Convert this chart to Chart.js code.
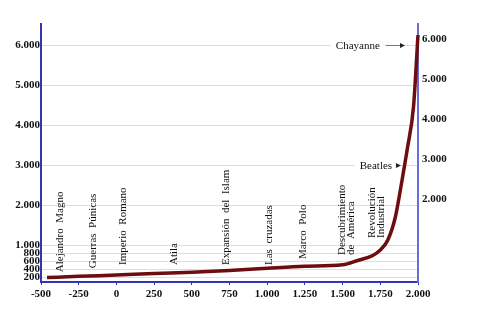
<!DOCTYPE html>
<html lang="es">
<head>
  <meta charset="UTF-8" />
  <title>Población mundial</title>
  <script src="https://cdn.jsdelivr.net/npm/chart.js"></script>
  <style>
    body { margin: 0; padding: 0; background: #fff; }
    #wrap { width: 477px; height: 333px; }
  </style>
</head>
<body>
  <div id="wrap"><canvas id="chart" width="477" height="333"></canvas></div>

  <script>
    // curve data (year, millions)
    const years = [-460, -250, 0, 250, 500, 750, 1000, 1250, 1500, 1600, 1700, 1750, 1800, 1850, 1875, 1900, 1930, 1970, 2000];
    const population = [185, 217, 250, 287, 318, 362, 418, 467, 505, 612, 737, 875, 1125, 1700, 2200, 2750, 3425, 4450, 6250];

    // axis ticks
    const leftTicks = [200, 400, 600, 800, 1000, 2000, 3000, 4000, 5000, 6000];
    const rightTicks = [2000, 3000, 4000, 5000, 6000];

    // vertical event labels
    const eventLabels = [['Alejandro  Magno'], ['Guerras  Púnicas'], ['Imperio  Romano'], ['Atila'],
      ['Expansión  del  Islam'], ['Las  cruzadas'], ['Marco  Polo'], ['Descubrimiento', 'de  América'], ['Revolución', 'Industrial']];
    const eventYears = [-375, -155, 45, 380, 725, 1015, 1240, 1525, 1725];
    const eventBase = [320, 420, 500, 500, 500, 500, 650, 750, 1175];

    // arrow notes
    const noteLabels = ['Chayanne', 'Beatles'];
    const noteYears = [1601, 1721];
    const noteValues = [6000, 3000];
    const noteArrowTo = [1914, 1887];

    const serif = '"Liberation Serif", "Times New Roman", serif';
    const blue = '#3434b4';

    function fmt(v) {
      if (Math.abs(v) < 1000) return String(v);
      return Math.floor(v / 1000) + '.' + String(v % 1000).padStart(3, '0');
    }

    const notes = {
      id: 'notes',
      beforeDatasetsDraw(chart) {
        const { ctx, scales: { x, y } } = chart;
        ctx.save();
        ctx.font = '11px ' + serif;
        ctx.fillStyle = '#111';
        eventLabels.forEach((lines, i) => {
          const px = x.getPixelForValue(eventYears[i]);
          const py = y.getPixelForValue(eventBase[i]);
          ctx.save();
          ctx.translate(px, py);
          ctx.rotate(-Math.PI / 2);
          ctx.textAlign = 'left';
          ctx.textBaseline = 'middle';
          lines.forEach((t, j) => ctx.fillText(t, 0, (j - (lines.length - 1) / 2) * 9.5));
          ctx.restore();
        });

        noteLabels.forEach((t, i) => {
          const cx = x.getPixelForValue(noteYears[i]);
          const cy = y.getPixelForValue(noteValues[i]);
          const w = ctx.measureText(t).width;
          ctx.fillStyle = '#fff';
          ctx.fillRect(cx - w / 2 - 5, cy - 6, w + 10, 12);
          ctx.fillStyle = '#111';
          ctx.textAlign = 'center';
          ctx.textBaseline = 'middle';
          ctx.fillText(t, cx, cy + 1);
          const tip = x.getPixelForValue(noteArrowTo[i]);
          ctx.strokeStyle = '#777';
          ctx.lineWidth = 1;
          ctx.beginPath();
          ctx.moveTo(cx + w / 2 + 6, cy + 0.5);
          ctx.lineTo(tip - 3, cy + 0.5);
          ctx.stroke();
          ctx.fillStyle = '#222';
          ctx.beginPath();
          ctx.moveTo(tip, cy + 0.5);
          ctx.lineTo(tip - 5, cy - 2);
          ctx.lineTo(tip - 5, cy + 3);
          ctx.closePath();
          ctx.fill();
        });
        ctx.restore();
      }
    };

    new Chart(document.getElementById('chart'), {
      type: 'line',
      data: {
        datasets: [{
          data: years.map((yr, i) => ({ x: yr, y: population[i] })),
          borderColor: '#6e0d10',
          borderWidth: 3.5,
          pointRadius: 0,
          cubicInterpolationMode: 'monotone',
          clip: false
        }]
      },
      options: {
        responsive: false,
        animation: false,
        devicePixelRatio: 1,
        layout: { padding: { top: 24, left: 0, right: 0, bottom: 0 } },
        plugins: { legend: { display: false }, tooltip: { enabled: false } },
        scales: {
          x: {
            type: 'linear',
            min: -500, max: 2000,
            afterFit: s => { s.height = 51; },
            afterBuildTicks: s => {
              s.ticks = [];
              for (let v = -500; v <= 2000; v += 250) s.ticks.push({ value: v });
            },
            ticks: { callback: v => fmt(v), color: '#111', padding: 3, maxRotation: 0,
              font: { family: serif, size: 11, weight: 'bold' } },
            grid: { drawOnChartArea: false, drawTicks: true, tickLength: 3, color: blue },
            border: { color: blue, width: 2 }
          },
          y: {
            type: 'linear',
            min: 75, max: 6525,
            afterFit: s => { s.width = 41; },
            afterBuildTicks: s => { s.ticks = leftTicks.map(v => ({ value: v })); },
            ticks: { callback: v => fmt(v), color: '#111', padding: 1, autoSkip: false,
              font: { family: serif, size: 11, weight: 'bold' } },
            grid: { color: '#dddddd', drawTicks: false, tickLength: 0 },
            border: { color: blue, width: 2 }
          },
          y2: {
            type: 'linear',
            position: 'right',
            min: -75, max: 6375,
            afterFit: s => { s.width = 59; },
            afterBuildTicks: s => { s.ticks = rightTicks.map(v => ({ value: v })); },
            ticks: { callback: v => fmt(v), color: '#111', padding: 4, autoSkip: false,
              font: { family: serif, size: 11, weight: 'bold' } },
            grid: { drawOnChartArea: false, drawTicks: false, tickLength: 0 },
            border: { color: '#6c6cd0', width: 2 }
          }
        }
      },
      plugins: [notes]
    });
  </script>
</body>
</html>
